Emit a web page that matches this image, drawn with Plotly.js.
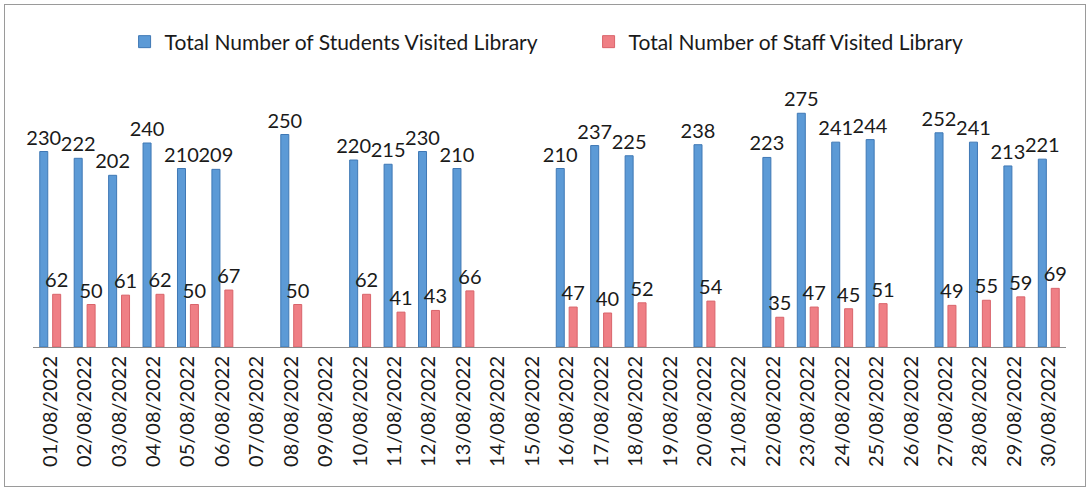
<!DOCTYPE html>
<html>
<head>
<meta charset="utf-8">
<script src="https://cdn.plot.ly/plotly-3.0.1.min.js"></script>
<style>
  html, body { margin: 0; padding: 0; background: #fff; }
  #wrap { position: relative; width: 1092px; height: 496px; }
  #chart { position: absolute; left: 0; top: 0; width: 1092px; height: 496px; }
  #frame { position: absolute; left: 4px; top: 4px; width: 1080px; height: 481px; border: 1px solid #9a9a9a; pointer-events: none; }
</style>
</head>
<body>
<div id="wrap">
  <div id="chart"></div>
  <div id="frame"></div>
</div>
<script>
const dates = ["01/08/2022","02/08/2022","03/08/2022","04/08/2022","05/08/2022","06/08/2022","07/08/2022","08/08/2022","09/08/2022","10/08/2022","11/08/2022","12/08/2022","13/08/2022","14/08/2022","15/08/2022","16/08/2022","17/08/2022","18/08/2022","19/08/2022","20/08/2022","21/08/2022","22/08/2022","23/08/2022","24/08/2022","25/08/2022","26/08/2022","27/08/2022","28/08/2022","29/08/2022","30/08/2022"];
const students = [230,222,202,240,210,209,null,250,null,220,215,230,210,null,null,210,237,225,null,238,null,223,275,241,244,null,252,241,213,221];
const staff = [62,50,61,62,50,67,null,50,null,62,41,43,66,null,null,47,40,52,null,54,null,35,47,45,51,null,49,55,59,69];
const seriesNames = ["Total Number of Students Visited Library","Total Number of Staff Visited Library"];

const fam = "Lato, 'Open Sans', sans-serif";
const labelFont = {family: fam, size: 20, color: "#1a1a1a"};
function lab(arr){ return arr.map(v => v === null ? "" : String(v)); }

const traces = [
  {type: "bar", name: seriesNames[0], x: dates, y: students, text: lab(students),
   textposition: "outside", constraintext: "none", cliponaxis: false, textfont: labelFont,
   marker: {color: "#5c9ad6", line: {color: "#3f78b5", width: 1}}, hoverinfo: "x+y"},
  {type: "bar", name: seriesNames[1], x: dates, y: staff, text: lab(staff),
   textposition: "outside", constraintext: "none", cliponaxis: false, textfont: labelFont,
   marker: {color: "#ef7f85", line: {color: "#d9646b", width: 1}}, hoverinfo: "x+y"}
];

const layout = {
  width: 1092, height: 496,
  margin: {l: 33, r: 26, t: 92, b: 149},
  paper_bgcolor: "#ffffff", plot_bgcolor: "#ffffff",
  barmode: "group", bargap: 0.25, bargroupgap: 0.38,
  showlegend: true,
  legend: {orientation: "h", x: 0.539, xref: "container", xanchor: "center",
           y: 1 - 42/496, yref: "container", yanchor: "middle",
           font: {family: fam, size: 21, color: "#1a1a1a"},
           entrywidth: 419, entrywidthmode: "pixels",
           itemwidth: 30, tracegroupgap: 0, bgcolor: "rgba(0,0,0,0)"},
  xaxis: {type: "category", tickangle: -90, showgrid: false, zeroline: false,
          showline: true, linecolor: "#8c8c8c", linewidth: 1, ticks: "",
          tickfont: {family: fam, size: 20, color: "#1a1a1a"}},
  yaxis: {range: [0, 300], visible: false, showgrid: false, zeroline: false}
};

Plotly.newPlot("chart", traces, layout, {displayModeBar: false, staticPlot: true});
</script>
</body>
</html>
